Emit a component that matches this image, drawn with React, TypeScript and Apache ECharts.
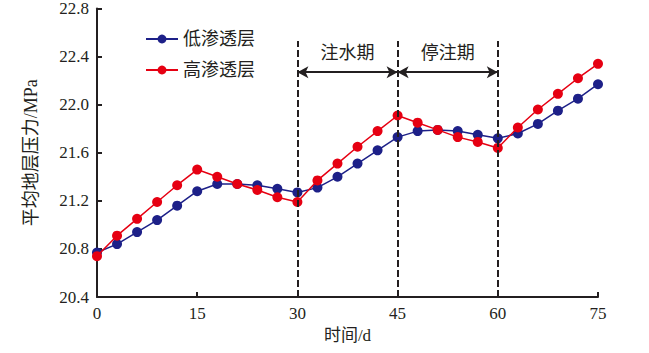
import React, { useEffect, useRef } from "react";
import * as echarts from "echarts";

const days = [0, 3, 6, 9, 12, 15, 18, 21, 24, 27, 30, 33, 36, 39, 42, 45, 48, 51, 54, 57, 60, 63, 66, 69, 72, 75];
const lowPerm = [20.77, 20.84, 20.94, 21.04, 21.16, 21.28, 21.34, 21.34, 21.33, 21.30, 21.27, 21.31, 21.40, 21.51, 21.62, 21.73, 21.78, 21.79, 21.78, 21.75, 21.72, 21.76, 21.84, 21.95, 22.05, 22.17];
const highPerm = [20.74, 20.91, 21.05, 21.19, 21.33, 21.46, 21.40, 21.34, 21.29, 21.23, 21.19, 21.37, 21.51, 21.65, 21.78, 21.91, 21.85, 21.79, 21.73, 21.69, 21.64, 21.81, 21.96, 22.09, 22.22, 22.34];
const seriesNames = ["低渗透层", "高渗透层"];
const xTicks = [0, 15, 30, 45, 60, 75];
const yMin = 20.4;
const yMax = 22.8;
const yStep = 0.4;
const phaseBounds = [30, 45, 60];
const phaseLabels = ["注水期", "停注期"];
const dividerTop = 22.53;
const arrowLevel = 22.27;

const SERIF = '"Liberation Serif", "Times New Roman", "Noto Sans CJK SC", serif';

export default function App() {
  const ref = useRef<HTMLDivElement>(null);
  useEffect(() => {
    if (!ref.current) return;
    const chart = echarts.init(ref.current, undefined, { renderer: "svg" });
    const low = days.map((d, i) => [d, lowPerm[i]]);
    const high = days.map((d, i) => [d, highPerm[i]]);
    const dividers = phaseBounds.map((x) => [
      { coord: [x, yMin] },
      { coord: [x, dividerTop] },
    ]);
    const arrows = phaseLabels.map((lab, i) => [
      {
        coord: [phaseBounds[i], arrowLevel],
        label: {
          show: true,
          formatter: lab,
          position: "insideMiddleTop",
          distance: 10,
          color: "#231f20",
          fontSize: 18,
          fontFamily: SERIF,
        },
      },
      { coord: [phaseBounds[i + 1], arrowLevel] },
    ]);
    chart.setOption({
      animation: false,
      backgroundColor: "#fff",
      grid: { left: 97, right: 51, top: 8, bottom: 56, containLabel: false },
      legend: {
        orient: "vertical",
        left: 140,
        top: 25,
        itemWidth: 32,
        itemHeight: 11,
        itemGap: 13,
        textStyle: { fontSize: 18, fontFamily: SERIF, color: "#231f20" },
        data: seriesNames,
      },
      xAxis: {
        type: "value",
        min: 0,
        max: 75,
        interval: 15,
        name: "时间/d",
        nameLocation: "middle",
        nameGap: 29,
        nameTextStyle: { fontSize: 17, fontFamily: SERIF, color: "#231f20" },
        axisLine: { show: true, lineStyle: { color: "#231f20", width: 2 } },
        axisTick: { show: true, inside: true, length: 5, lineStyle: { color: "#231f20", width: 2 } },
        axisLabel: {
          fontSize: 17,
          fontFamily: SERIF,
          color: "#231f20",
          margin: 8,
          formatter: (v: number) => (xTicks.includes(v) ? String(v) : ""),
        },
        splitLine: { show: false },
      },
      yAxis: {
        type: "value",
        min: yMin,
        max: yMax,
        interval: yStep,
        name: "平均地层压力/MPa",
        nameLocation: "middle",
        nameGap: 57,
        nameTextStyle: { fontSize: 18, fontFamily: SERIF, color: "#231f20" },
        axisLine: { show: true, lineStyle: { color: "#231f20", width: 2 } },
        axisTick: { show: true, inside: true, length: 5, lineStyle: { color: "#231f20", width: 2 } },
        axisLabel: {
          fontSize: 17,
          fontFamily: SERIF,
          color: "#231f20",
          margin: 8,
          formatter: (v: number) => v.toFixed(1),
        },
        splitLine: { show: false },
      },
      series: [
        {
          name: seriesNames[0],
          type: "line",
          data: low,
          symbol: "circle",
          symbolSize: 10,
          itemStyle: { color: "#1d2088" },
          lineStyle: { color: "#1d2088", width: 1.5 },
          z: 3,
          markLine: {
            silent: true,
            symbol: ["none", "none"],
            label: { show: false },
            lineStyle: { color: "#231f20", width: 2, type: [7, 3] },
            data: dividers,
          },
        },
        {
          name: seriesNames[1],
          type: "line",
          data: high,
          symbol: "circle",
          symbolSize: 10,
          itemStyle: { color: "#e60012" },
          lineStyle: { color: "#e60012", width: 1.5 },
          z: 4,
          markLine: {
            silent: true,
            symbol: ["arrow", "arrow"],
            symbolSize: [9, 11],
            lineStyle: { color: "#231f20", width: 2, type: "solid" },
            data: arrows,
          },
        },
      ],
    });
    return () => chart.dispose();
  }, []);
  return <div ref={ref} style={{ width: 649, height: 353, position: "absolute", left: 0, top: 0 }} />;
}
